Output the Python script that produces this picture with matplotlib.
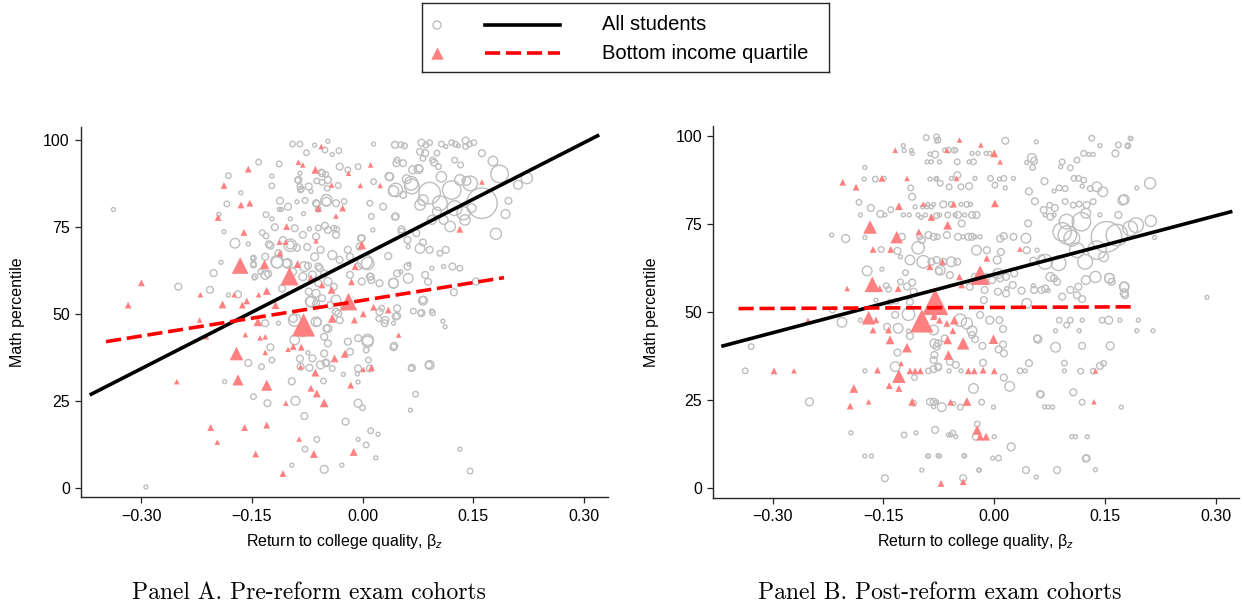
import numpy as np
import matplotlib
matplotlib.use('Agg')
from matplotlib import pyplot as plt

plt.rcParams['font.family'] = ['Liberation Sans', 'DejaVu Sans']
plt.rcParams['mathtext.fontset'] = 'custom'
plt.rcParams['mathtext.rm'] = 'Liberation Sans'
plt.rcParams['mathtext.it'] = 'Liberation Sans:italic'

x_ticks = [-0.30, -0.15, 0.0, 0.15, 0.30]
x_ticklabels = ['\u22120.30', '\u22120.15', '0.00', '0.15', '0.30']
y_ticks = [0, 25, 50, 75, 100]
y_ticklabels = ['0', '25', '50', '75', '100']

titles = ['Panel A. Pre-reform exam cohorts', 'Panel B. Post-reform exam cohorts']
legend_labels = ['All students', 'Bottom income quartile']

# fitted lines, end points
a_all_fit_x = [-0.368, 0.319]
a_all_fit_y = [26.9, 101.2]
a_low_fit_x = [-0.348, 0.192]
a_low_fit_y = [42.0, 60.4]
b_all_fit_x = [-0.367, 0.320]
b_all_fit_y = [40.3, 78.4]
b_low_fit_x = [-0.346, 0.186]
b_low_fit_y = [50.9, 51.4]

# cells: return, math percentile, weight (cell size)
a_all = np.array([
    [-0.338, 80.0, 1], [-0.095, 98.8, 2], [-0.085, 98.8, 2], [-0.076, 96.3, 2], [-0.065, 98.5, 1],
    [-0.047, 99.6, 1], [-0.051, 97.1, 2], [-0.041, 95.8, 1], [-0.032, 96.9, 2], [-0.141, 93.6, 2],
    [-0.113, 93.1, 2], [-0.085, 90.4, 1], [-0.056, 90.8, 2], [-0.050, 90.1, 2], [-0.182, 89.7, 2],
    [-0.123, 89.6, 1], [-0.123, 86.8, 2], [-0.088, 88.4, 2], [-0.085, 86.6, 2], [-0.083, 85.9, 2],
    [-0.062, 88.2, 2], [-0.055, 87.8, 2], [-0.048, 86.1, 2], [-0.070, 85.2, 1], [-0.033, 86.9, 2],
    [-0.165, 84.8, 1], [-0.184, 81.6, 2], [-0.112, 82.5, 3], [-0.101, 80.8, 3], [-0.089, 82.2, 1],
    [-0.078, 82.6, 2], [-0.062, 81.6, 3], [-0.049, 82.2, 5], [-0.060, 80.1, 2], [-0.113, 80.0, 1],
    [-0.110, 80.0, 1], [-0.131, 78.5, 2], [-0.123, 77.3, 1], [-0.098, 77.3, 1], [-0.080, 78.8, 1],
    [-0.195, 78.6, 1], [-0.188, 73.6, 1], [-0.119, 74.9, 3], [-0.072, 74.4, 1], [-0.060, 74.7, 2],
    [-0.051, 75.3, 3], [-0.035, 74.3, 2], [-0.136, 73.3, 2], [-0.131, 72.4, 2], [-0.173, 70.3, 6],
    [-0.155, 70.1, 1], [-0.125, 69.6, 3], [-0.098, 69.7, 10], [-0.089, 69.0, 3], [-0.075, 69.2, 3],
    [-0.149, 66.1, 1], [-0.192, 64.8, 1], [-0.148, 64.3, 2], [-0.116, 64.8, 8], [-0.102, 64.5, 6],
    [-0.074, 63.8, 3], [-0.060, 63.6, 3], [-0.202, 61.7, 3], [-0.128, 61.5, 3], [-0.147, 60.3, 1],
    [-0.250, 57.8, 3], [-0.207, 56.9, 3], [-0.182, 55.4, 1], [-0.169, 55.6, 3], [-0.109, 57.3, 3],
    [-0.069, 53.5, 8],
    [0.015, 98.8, 1], [0.044, 98.6, 3], [0.052, 98.6, 2], [0.057, 98.3, 2], [0.080, 99.2, 3],
    [0.086, 98.5, 2], [0.091, 99.2, 2], [0.107, 98.8, 2], [0.113, 98.1, 1], [0.121, 99.2, 2],
    [0.126, 98.8, 2], [0.130, 98.3, 1], [0.140, 99.8, 3], [0.145, 98.8, 2], [0.151, 99.2, 2],
    [0.140, 98.1, 2], [0.162, 96.2, 3], [0.177, 93.9, 6], [0.186, 90.2, 20], [0.223, 89.0, 8],
    [0.198, 82.5, 3], [0.194, 78.7, 5], [0.181, 73.0, 8], [0.091, 84.7, 30], [0.121, 85.6, 22],
    [0.162, 81.8, 60], [0.146, 87.5, 14], [0.105, 81.8, 14], [0.125, 80.4, 14], [0.137, 78.9, 11],
    [0.119, 75.1, 7], [0.067, 86.6, 14], [0.042, 85.3, 7], [0.060, 88.7, 5], [0.076, 91.6, 5],
    [0.107, 89.4, 7], [0.132, 88.5, 7], [0.141, 88.2, 5], [0.082, 82.7, 7], [0.101, 79.4, 5],
    [0.078, 81.3, 7], [0.094, 77.0, 5], [0.110, 77.0, 5], [0.139, 77.0, 7], [0.148, 80.4, 5],
    [0.037, 89.4, 4], [0.046, 93.3, 3], [0.078, 96.6, 3], [0.082, 94.7, 2], [0.097, 93.5, 3],
    [0.103, 92.3, 2], [0.062, 69.3, 1], [0.078, 68.8, 6], [0.044, 77.9, 3], [0.035, 66.6, 3],
    [0.053, 74.3, 3], [0.073, 73.2, 3], [0.082, 70.5, 3], [0.105, 67.4, 2], [0.113, 68.4, 3],
    [0.091, 68.4, 3], [0.122, 63.6, 3], [0.132, 63.1, 2], [0.110, 63.6, 1], [0.094, 63.1, 1],
    [0.085, 61.2, 3], [0.062, 60.2, 6], [0.042, 58.8, 6], [0.089, 59.2, 3], [0.124, 56.2, 3],
    [0.082, 54.0, 3], [0.052, 62.1, 1], [0.063, 64.3, 1], [-0.004, 69.3, 3], [0.003, 65.0, 14],
    [0.011, 60.7, 3], [0.014, 74.1, 1], [-0.002, 71.7, 3],
    [0.085, 96.2, 3], [0.095, 94.2, 2], [0.101, 96.2, 2], [0.077, 91.8, 3], [0.068, 91.4, 4],
    [0.125, 94.2, 2], [0.133, 92.8, 2], [0.211, 87.1, 5],
    [-0.132, 47.3, 3], [-0.114, 47.3, 1], [-0.094, 48.7, 4], [-0.061, 47.6, 4], [-0.049, 45.8, 3],
    [-0.125, 40.4, 3], [-0.123, 36.7, 2], [-0.155, 35.9, 3], [-0.137, 34.8, 2], [-0.187, 30.5, 1],
    [-0.148, 26.2, 2], [-0.129, 24.3, 3], [-0.096, 30.6, 3], [-0.091, 25.0, 5], [-0.074, 38.8, 1],
    [-0.085, 37.1, 3], [-0.072, 34.5, 3], [-0.053, 30.7, 2], [-0.079, 20.6, 3], [-0.062, 13.9, 2],
    [-0.078, 11.1, 2], [-0.052, 5.3, 4], [-0.096, 6.5, 1], [-0.050, 36.0, 3], [-0.294, 0.2, 1],
    [0.026, 51.6, 2], [0.047, 49.4, 3], [0.069, 50.8, 2], [0.080, 50.2, 3], [0.094, 50.8, 1],
    [0.082, 53.8, 5], [0.109, 47.9, 1], [0.112, 46.3, 1], [0.042, 47.3, 1], [0.030, 47.3, 3],
    [0.022, 48.6, 2], [0.007, 42.0, 8], [0.043, 40.8, 3], [0.005, 39.6, 2], [0.008, 36.7, 2],
    [0.067, 34.5, 3], [0.091, 35.3, 5], [-0.006, 24.3, 4], [0.000, 23.0, 2], [-0.023, 19.0, 3],
    [0.072, 26.9, 2], [0.065, 22.3, 1], [0.011, 16.4, 2], [0.021, 15.4, 1], [-0.006, 13.9, 1],
    [0.005, 12.3, 2], [0.018, 8.6, 1], [-0.028, 6.5, 1], [0.132, 11.1, 1], [0.146, 4.8, 2],
    [-0.026, 32.6, 1], [-0.007, 32.7, 1], [-0.006, 30.4, 1],
    [-0.116, 65.0, 10], [-0.103, 64.5, 4], [-0.095, 62.1, 4], [-0.079, 63.6, 6], [-0.068, 61.2, 4],
    [-0.058, 63.1, 3], [-0.052, 61.6, 3], [-0.081, 60.7, 4], [-0.060, 58.8, 3], [-0.047, 59.3, 4],
    [-0.039, 57.8, 3], [-0.073, 56.4, 3], [-0.063, 55.9, 4], [-0.071, 53.5, 6], [-0.063, 53.0, 3],
    [-0.055, 54.5, 3], [-0.044, 52.5, 3], [-0.036, 50.6, 3], [-0.092, 48.2, 10], [-0.063, 47.7, 6],
    [-0.047, 45.8, 4], [-0.033, 50.1, 3], [-0.031, 48.2, 3], [-0.092, 42.5, 6], [-0.081, 44.4, 3],
    [-0.052, 43.4, 3], [-0.047, 41.5, 3], [-0.020, 42.0, 3], [-0.017, 39.1, 3], [-0.006, 43.0, 3],
    [0.007, 42.5, 8], [-0.052, 38.6, 3], [-0.068, 37.2, 3], [-0.057, 35.3, 4], [-0.049, 35.8, 3],
    [-0.041, 34.3, 2], [-0.084, 34.8, 3], [-0.006, 34.3, 3], [0.010, 34.3, 3], [-0.132, 61.2, 5],
    [-0.138, 62.1, 2], [-0.146, 60.7, 2], [-0.148, 66.0, 2], [-0.148, 64.0, 2], [-0.132, 66.4, 3],
    [-0.127, 70.0, 3], [-0.114, 67.4, 3], [-0.108, 71.2, 3], [-0.098, 69.8, 4], [-0.092, 74.6, 3],
    [-0.081, 72.7, 3], [-0.063, 72.2, 3], [-0.047, 74.1, 3], [-0.039, 74.6, 2], [-0.036, 72.7, 3],
    [-0.065, 66.4, 4], [-0.057, 68.4, 3], [-0.041, 66.9, 5], [-0.031, 65.5, 3], [-0.020, 68.4, 3],
    [-0.017, 66.4, 3], [-0.001, 71.7, 3], [0.007, 64.5, 10], [0.010, 60.7, 3], [0.012, 59.7, 3],
    [0.023, 58.8, 3], [-0.001, 59.3, 3], [-0.017, 61.2, 3], [-0.006, 63.6, 3], [-0.036, 54.0, 6],
    [-0.025, 52.1, 3], [0.023, 50.6, 3], [0.031, 48.2, 3], [0.045, 49.2, 3], [0.047, 51.6, 3],
    [0.042, 58.8, 6], [0.047, 61.6, 3], [0.061, 63.6, 3], [0.042, 40.4, 3], [0.066, 34.3, 2],
    [0.090, 35.3, 3], [0.079, 50.3, 2], [0.095, 50.3, 2], [0.154, 59.3, 3],
    [-0.031, 92.3, 3], [-0.006, 92.3, 2], [-0.020, 91.4, 2], [-0.055, 90.4, 3], [-0.047, 88.5, 3],
    [-0.087, 88.5, 3], [-0.073, 86.6, 3], [-0.084, 85.6, 2], [-0.049, 82.7, 8], [-0.063, 81.8, 3],
    [-0.036, 81.8, 3], [-0.025, 82.3, 2], [0.010, 81.8, 2], [0.012, 78.0, 2], [0.015, 88.0, 2],
    [0.036, 89.5, 4], [0.045, 85.6, 12], [0.045, 78.0, 3], [0.053, 73.6, 3], [0.055, 93.3, 3],
    [0.047, 94.2, 2], [0.028, 80.8, 3], [0.055, 84.2, 3], [0.061, 71.2, 3], [0.066, 87.5, 12],
])

a_low = np.array([
    [-0.056, 98.1, 2], [-0.087, 93.6, 2], [-0.081, 92.8, 2], [-0.064, 91.4, 4], [-0.042, 87.0, 2],
    [-0.155, 91.6, 3], [-0.188, 86.9, 3], [-0.165, 81.3, 3], [-0.153, 81.8, 3], [-0.196, 77.7, 3],
    [-0.161, 73.4, 3], [-0.103, 75.1, 3], [-0.113, 70.6, 2], [-0.104, 70.6, 2], [-0.063, 71.0, 2],
    [-0.112, 67.4, 3], [-0.166, 63.9, 18], [-0.133, 64.2, 6], [-0.088, 64.3, 4], [-0.099, 60.8, 22],
    [-0.070, 60.4, 3], [-0.300, 58.9, 3], [-0.174, 55.5, 2], [-0.220, 55.5, 2], [-0.141, 55.5, 2],
    [-0.130, 56.6, 4], [-0.318, 52.5, 3], [-0.190, 52.7, 4], [-0.157, 53.7, 3], [-0.163, 52.5, 3],
    [-0.118, 52.5, 4], [-0.042, 56.9, 4], [-0.055, 58.3, 3], [-0.019, 90.4, 2], [0.011, 92.8, 2],
    [-0.003, 86.9, 2], [0.024, 86.9, 2], [-0.027, 80.4, 3], [-0.001, 69.8, 5], [-0.010, 63.6, 3],
    [-0.015, 59.2, 3], [-0.019, 53.5, 20], [0.001, 50.0, 3], [0.015, 51.9, 3], [0.035, 51.1, 3],
    [0.162, 87.9, 2], [0.132, 74.3, 3], [-0.221, 48.2, 2], [-0.212, 43.4, 2], [-0.159, 44.0, 2],
    [-0.142, 47.7, 5], [-0.080, 46.8, 35], [-0.132, 43.4, 2], [-0.139, 43.1, 2], [-0.094, 40.6, 3],
    [-0.083, 40.4, 3], [-0.101, 39.8, 2], [-0.132, 38.9, 2], [-0.171, 38.6, 12], [-0.038, 37.2, 4],
    [-0.084, 34.8, 2], [-0.064, 33.1, 4], [-0.169, 31.0, 8], [-0.130, 29.5, 8], [-0.252, 30.5, 2],
    [-0.070, 28.6, 3], [-0.062, 27.1, 4], [-0.052, 24.4, 5], [-0.104, 24.3, 2], [-0.206, 17.3, 3],
    [-0.160, 17.3, 3], [-0.130, 18.0, 3], [-0.197, 13.1, 2], [-0.145, 9.7, 3], [-0.066, 9.7, 4],
    [-0.086, 14.0, 2], [-0.108, 4.1, 3], [-0.011, 48.2, 3], [-0.024, 38.5, 4], [-0.016, 29.5, 3],
    [-0.012, 10.3, 4], [0.012, 34.5, 3], [0.001, 34.0, 2], [0.049, 43.9, 2], [-0.060, 80.3, 3],
    [-0.036, 78.1, 2], [-0.041, 48.7, 5],
])

b_all = np.array([
    [-0.092, 99.5, 2], [-0.078, 99.7, 2], [-0.076, 98.8, 2], [-0.123, 97.2, 1], [-0.122, 95.8, 1],
    [-0.112, 95.8, 1], [-0.111, 95.0, 1], [-0.087, 94.8, 1], [-0.080, 94.7, 3], [-0.091, 92.6, 1],
    [-0.085, 92.6, 1], [-0.175, 91.0, 1], [-0.176, 87.7, 1], [-0.161, 87.7, 2], [-0.149, 87.9, 1],
    [-0.087, 87.7, 1], [-0.079, 87.7, 1], [-0.113, 85.2, 2], [-0.111, 82.7, 3], [-0.183, 81.1, 2],
    [-0.167, 79.5, 3], [-0.181, 77.5, 1], [-0.154, 77.8, 3], [-0.148, 77.5, 1], [-0.140, 79.0, 2],
    [-0.123, 77.5, 1], [-0.115, 77.5, 1], [-0.107, 79.8, 1], [-0.097, 79.8, 1], [-0.099, 76.8, 1],
    [-0.091, 79.8, 1], [-0.085, 79.8, 1], [-0.078, 77.3, 2], [-0.220, 71.8, 1], [-0.201, 70.8, 4],
    [-0.125, 71.3, 3], [-0.175, 71.1, 1], [-0.153, 67.7, 2], [-0.131, 67.3, 3], [-0.127, 65.6, 1],
    [-0.152, 62.1, 1], [-0.172, 61.6, 6], [-0.114, 64.7, 6], [-0.103, 68.2, 10], [-0.098, 70.4, 3],
    [-0.089, 71.8, 3], [-0.082, 71.3, 3], [-0.096, 64.2, 10], [-0.078, 64.7, 3], [-0.075, 61.6, 3],
    [-0.146, 57.4, 2], [-0.143, 56.4, 2], [-0.127, 58.5, 2], [-0.120, 61.1, 2], [-0.118, 57.2, 3],
    [-0.111, 58.3, 3], [-0.109, 55.7, 3], [-0.160, 53.3, 1], [-0.141, 52.7, 2], [-0.133, 53.0, 2],
    [-0.114, 52.8, 3], [-0.219, 50.5, 2],
    [-0.078, 98.5, 1], [0.015, 98.6, 3], [0.057, 98.3, 1], [0.132, 99.3, 2], [0.143, 97.2, 1],
    [0.168, 97.4, 2], [0.181, 97.2, 2], [0.184, 99.3, 1], [0.164, 95.0, 3], [0.121, 95.0, 2],
    [0.128, 94.7, 1], [0.134, 94.7, 1], [0.112, 93.1, 2], [0.092, 92.6, 2], [0.090, 91.2, 1],
    [0.103, 90.9, 2], [0.051, 93.7, 5], [0.054, 92.9, 3], [0.044, 92.4, 1], [0.052, 91.0, 2],
    [-0.067, 95.9, 1], [-0.062, 95.9, 2], [-0.054, 95.9, 2], [-0.052, 95.9, 1], [-0.030, 95.0, 1],
    [-0.022, 95.0, 1], [-0.011, 95.0, 1], [-0.006, 95.0, 1], [-0.050, 92.6, 2], [-0.050, 88.8, 3],
    [-0.078, 87.9, 1], [-0.073, 86.5, 2], [-0.061, 85.5, 2], [-0.034, 85.7, 3], [0.007, 87.7, 1],
    [0.013, 87.9, 2], [0.001, 86.0, 2], [0.015, 85.2, 1], [0.026, 87.9, 1], [0.047, 84.2, 3],
    [0.068, 87.1, 3], [0.081, 84.3, 1], [0.088, 85.2, 2], [0.096, 85.0, 2], [0.108, 87.9, 2],
    [0.114, 87.9, 2], [0.121, 87.4, 2], [0.119, 85.7, 1], [0.130, 85.0, 2], [0.139, 85.5, 6],
    [0.147, 84.1, 6], [0.193, 85.2, 1], [0.211, 86.5, 8], [0.174, 81.7, 6], [0.168, 77.5, 3],
    [0.143, 77.5, 1], [0.055, 81.4, 3], [0.046, 75.1, 3], [0.067, 78.9, 3], [0.075, 80.3, 2],
    [0.082, 79.5, 3], [0.096, 81.3, 2], [0.107, 80.3, 2], [0.115, 80.6, 2], [0.125, 80.3, 3],
    [0.134, 81.3, 2], [0.069, 77.5, 1], [0.076, 77.0, 3], [0.081, 77.5, 1], [0.098, 75.6, 14],
    [0.118, 75.6, 22], [0.124, 78.0, 6], [0.092, 72.7, 22], [0.099, 71.8, 22], [0.105, 70.9, 16],
    [0.152, 71.3, 60], [0.166, 71.8, 30], [0.184, 73.7, 14], [0.192, 74.6, 14], [0.212, 75.8, 8],
    [0.112, 67.5, 14], [0.123, 64.2, 14], [0.139, 67.5, 22], [0.148, 65.6, 6], [0.069, 64.2, 14],
    [0.087, 63.8, 14], [0.043, 70.9, 6], [0.044, 67.5, 3], [0.058, 67.5, 1], [0.053, 64.5, 3],
    [0.064, 65.2, 3], [0.076, 59.9, 5], [0.081, 59.5, 3], [0.085, 58.5, 3], [0.103, 56.2, 3],
    [0.114, 57.1, 3], [0.124, 59.0, 5], [0.137, 59.9, 8], [0.156, 59.5, 6], [0.159, 58.5, 3],
    [0.176, 57.1, 6], [0.177, 54.7, 3], [0.112, 54.7, 3], [0.119, 53.6, 3], [0.092, 54.3, 3],
    [0.054, 56.2, 3], [0.064, 56.2, 3], [0.073, 56.0, 1], [0.044, 52.4, 6], [0.025, 57.6, 3],
    [0.037, 56.0, 3], [0.017, 56.6, 1], [0.008, 59.5, 3], [-0.003, 59.0, 3], [0.004, 64.7, 4],
    [0.009, 67.0, 3], [-0.024, 67.5, 6], [-0.073, 61.8, 6], [-0.060, 60.4, 3], [-0.064, 71.8, 3],
    [-0.049, 71.3, 3], [-0.042, 71.3, 1], [-0.035, 71.3, 3], [-0.030, 71.3, 3], [-0.026, 71.3, 1],
    [-0.019, 71.3, 1], [-0.049, 77.5, 3], [-0.040, 77.5, 1], [-0.030, 77.5, 3], [-0.024, 77.5, 3],
    [-0.044, 75.1, 3], [-0.010, 67.5, 3], [0.008, 70.8, 3], [0.013, 71.5, 3], [0.026, 71.3, 3],
    [-0.033, 57.1, 3], [-0.014, 53.3, 3],
    [-0.329, 40.1, 2], [-0.337, 33.2, 2], [-0.250, 24.4, 4], [-0.194, 15.6, 1], [-0.175, 9.0, 1],
    [-0.166, 9.0, 1], [-0.175, 33.2, 1], [-0.148, 2.7, 3], [-0.206, 47.0, 6], [-0.181, 47.6, 1],
    [-0.145, 45.7, 3], [-0.130, 45.3, 6], [-0.114, 43.1, 3], [-0.116, 44.5, 1], [-0.131, 38.4, 3],
    [-0.134, 34.4, 6], [-0.108, 31.3, 2], [-0.109, 24.0, 2], [-0.122, 15.0, 2], [-0.106, 15.6, 1],
    [-0.098, 5.0, 1], [-0.089, 9.0, 1], [-0.087, 24.4, 3], [-0.082, 24.4, 3], [-0.078, 24.4, 1],
    [-0.080, 16.4, 3], [-0.082, 23.0, 1], [-0.089, 33.2, 2], [-0.082, 33.7, 3], [-0.076, 34.2, 3],
    [-0.082, 36.3, 3], [-0.078, 40.1, 3], [-0.076, 41.0, 3], [-0.082, 44.8, 6], [-0.116, 49.3, 10],
    [-0.134, 49.1, 3],
    [-0.006, 47.6, 4], [0.007, 47.6, 3], [0.012, 45.1, 3], [0.059, 42.2, 4], [0.083, 39.9, 6],
    [0.119, 40.3, 3], [0.157, 40.3, 4], [0.088, 47.6, 2], [0.098, 46.2, 2], [0.103, 47.6, 2],
    [0.119, 47.6, 1], [0.146, 47.6, 2], [0.155, 47.6, 4], [0.170, 47.6, 1], [0.195, 47.6, 1],
    [0.083, 44.6, 1], [0.115, 44.6, 1], [0.193, 44.6, 1], [0.215, 44.6, 1], [0.012, 40.7, 3],
    [0.006, 39.3, 3], [0.013, 38.2, 3], [-0.016, 40.3, 3], [-0.026, 42.2, 3], [-0.030, 43.4, 3],
    [-0.015, 35.5, 3], [0.013, 31.3, 3], [0.021, 28.8, 6], [0.047, 35.4, 3], [0.035, 33.2, 2],
    [0.042, 33.2, 1], [0.095, 35.4, 2], [0.095, 33.2, 1], [0.117, 33.1, 2], [0.134, 33.1, 2],
    [0.143, 34.6, 3], [0.148, 35.3, 2], [-0.028, 28.2, 6], [0.063, 26.5, 3], [0.107, 27.1, 3],
    [-0.017, 24.3, 2], [-0.001, 22.9, 1], [0.073, 22.9, 1], [0.079, 22.9, 1], [0.119, 24.3, 2],
    [0.172, 22.9, 1], [-0.062, 15.0, 1], [-0.056, 15.5, 2], [-0.052, 14.5, 1], [-0.023, 18.1, 2],
    [-0.025, 14.5, 3], [0.000, 14.5, 1], [0.023, 11.6, 4], [0.105, 14.5, 1], [0.110, 14.5, 1],
    [0.126, 14.5, 1], [-0.076, 9.1, 1], [-0.041, 9.1, 1], [-0.002, 8.4, 1], [0.006, 8.4, 2],
    [0.125, 8.4, 3], [-0.020, 5.0, 1], [0.043, 5.0, 3], [0.085, 5.0, 3], [0.137, 5.1, 1],
    [0.057, 3.0, 1], [-0.042, 2.7, 3], [-0.081, 37.7, 3], [-0.076, 34.4, 3], [-0.061, 33.2, 1],
    [-0.045, 33.2, 1], [-0.060, 35.8, 3], [-0.052, 34.9, 3], [-0.071, 22.9, 5], [-0.055, 23.9, 1],
    [-0.046, 22.9, 2], [-0.081, 41.0, 5], [-0.067, 42.4, 3], [-0.046, 47.6, 10], [-0.037, 46.7, 8],
    [-0.030, 44.6, 6], [-0.019, 49.1, 3],
    [0.288, 54.1, 1], [0.185, 99.2, 1], [0.180, 97.1, 1], [0.176, 81.9, 6], [0.217, 71.1, 1],
    [0.156, 59.5, 6], [0.176, 57.1, 5], [0.176, 55.4, 4], [0.058, 42.4, 3], [0.068, 23.0, 1],
    [0.124, 8.3, 3], [-0.090, 9.0, 1], [-0.074, 9.0, 1], [-0.059, 15.0, 1], [-0.040, 9.0, 1],
    [-0.021, 5.0, 1], [0.062, 26.6, 3],
    [-0.103, 77.5, 1], [-0.093, 77.5, 1], [-0.074, 77.5, 1], [-0.063, 77.5, 2], [-0.053, 77.5, 1],
    [-0.090, 80.5, 1], [-0.082, 80.5, 1], [-0.069, 80.5, 3], [-0.058, 80.5, 2], [-0.045, 80.5, 1],
    [-0.037, 80.5, 2], [-0.032, 80.5, 1], [-0.101, 71.3, 2], [-0.077, 71.3, 2], [-0.085, 64.2, 3],
    [-0.069, 64.2, 3], [-0.058, 64.2, 6], [-0.050, 64.2, 3], [-0.026, 59.9, 3], [-0.011, 59.9, 3],
    [0.016, 59.9, 3], [0.027, 60.9, 3], [0.005, 60.9, 6], [0.053, 57.4, 1], [0.069, 56.6, 3],
    [0.005, 55.7, 3], [0.016, 55.2, 3], [-0.013, 56.2, 3], [-0.074, 92.6, 1], [-0.034, 92.6, 1],
    [-0.028, 92.6, 2], [-0.058, 87.9, 1], [-0.026, 87.9, 1], [-0.005, 87.9, 2], [-0.045, 85.5, 2],
])

b_low = np.array([
    [-0.134, 95.9, 2], [-0.152, 87.9, 3], [-0.205, 86.8, 3], [-0.187, 85.4, 3], [-0.118, 87.9, 2],
    [-0.129, 80.0, 4], [-0.096, 80.6, 2], [-0.085, 76.8, 3], [-0.168, 74.1, 12], [-0.132, 71.2, 10],
    [-0.164, 67.7, 3], [-0.140, 67.7, 3], [-0.102, 72.7, 3], [-0.087, 62.8, 3], [-0.199, 56.6, 2],
    [-0.165, 57.8, 16], [-0.155, 56.6, 3], [-0.130, 56.6, 3], [-0.080, 52.8, 45], [-0.047, 98.8, 2],
    [-0.018, 97.4, 2], [0.000, 95.0, 4], [0.008, 92.6, 2], [-0.051, 87.9, 2], [-0.070, 64.2, 3],
    [-0.063, 74.6, 5], [-0.085, 77.0, 3], [-0.055, 80.6, 3], [0.001, 80.8, 4], [-0.047, 59.9, 3],
    [-0.019, 60.4, 25], [-0.044, 57.6, 3], [-0.010, 65.2, 3], [0.035, 67.8, 2], [-0.298, 33.2, 3],
    [-0.271, 33.2, 2], [-0.252, 47.6, 2], [-0.195, 23.2, 3], [-0.190, 28.2, 5], [-0.170, 24.4, 2],
    [-0.158, 33.4, 3], [-0.170, 48.3, 12], [-0.160, 47.7, 3], [-0.164, 44.8, 3], [-0.143, 44.8, 3],
    [-0.141, 42.0, 5], [-0.118, 39.8, 6], [-0.129, 31.7, 12], [-0.126, 35.3, 2], [-0.114, 33.2, 3],
    [-0.107, 33.2, 3], [-0.100, 33.2, 3], [-0.142, 29.0, 3], [-0.129, 28.2, 3], [-0.111, 24.4, 4],
    [-0.098, 47.4, 35], [-0.082, 48.6, 3], [-0.074, 47.6, 3], [-0.081, 49.1, 3], [-0.064, 46.7, 3],
    [-0.054, 47.6, 5], [-0.056, 44.6, 3], [-0.063, 42.0, 5], [-0.042, 41.0, 10], [-0.001, 42.2, 6],
    [-0.062, 37.7, 6], [-0.035, 33.2, 3], [-0.027, 33.2, 3], [-0.015, 33.4, 3], [0.000, 33.2, 3],
    [0.137, 33.2, 2], [-0.059, 24.3, 3], [-0.037, 24.5, 5], [0.135, 24.4, 2], [-0.023, 16.4, 6],
    [-0.019, 14.5, 4], [-0.011, 14.5, 4], [-0.072, 1.2, 3], [-0.042, 1.7, 3], [-0.064, 95.9, 2],
])

GREY = '#bebebe'
PINK = '#ff8080'
AXCOL = '#262626'

fig = plt.figure(figsize=(12.44, 6.07), dpi=100)


def draw_panel(rect, cells, low, fit_all, fit_low, xlim, ylim, ylab_x):
    ax = fig.add_axes(rect)
    ax.scatter(cells[:, 0], cells[:, 1], s=8 * cells[:, 2], facecolors='none',
               edgecolors=GREY, linewidths=1.0, zorder=2, clip_on=False)
    ax.scatter(low[:, 0], low[:, 1], s=8 * low[:, 2], marker='^', color=PINK,
               linewidths=0, zorder=3, clip_on=False)
    ax.plot(fit_all[0], fit_all[1], color='black', lw=2.6, zorder=4)
    ax.plot(fit_low[0], fit_low[1], color='red', lw=2.6, dashes=(4.2, 1.6), zorder=5)
    ax.set_xlim(xlim)
    ax.set_ylim(ylim)
    ax.set_xticks(x_ticks, x_ticklabels)
    ax.set_yticks(y_ticks, y_ticklabels)
    for s in ['top', 'right']:
        ax.spines[s].set_visible(False)
    for s in ['left', 'bottom']:
        ax.spines[s].set_color(AXCOL)
        ax.spines[s].set_linewidth(1.0)
    ax.tick_params(direction='out', length=4.5, width=0.9, color=AXCOL,
                   labelsize=11.5, pad=3.5)
    ax.set_xlabel('Return to college quality, \u03b2$_z$', fontsize=11.5)
    ax.set_ylabel('Math percentile', fontsize=11.5)
    ax.xaxis.set_label_coords(0.5, -0.092)
    ax.yaxis.set_label_coords(ylab_x, 0.5)
    return ax


draw_panel([0.0651, 0.1804, 0.4236, 0.6109], a_all, a_low,
           (a_all_fit_x, a_all_fit_y), (a_low_fit_x, a_low_fit_y),
           (-0.382, 0.333), (-2.8, 103.8), -0.106)
draw_panel([0.5735, 0.1801, 0.4223, 0.6124], b_all, b_low,
           (b_all_fit_x, b_all_fit_y), (b_low_fit_x, b_low_fit_y),
           (-0.380, 0.331), (-2.84, 102.8), -0.1035)

fig.text(308.5 / 1244, 1 - 593 / 607, titles[0], ha='center', va='center',
         family='cmr10', fontsize=17)
fig.text(940 / 1244, 1 - 593 / 607, titles[1], ha='center', va='center',
         family='cmr10', fontsize=17)

# legend box, drawn in its own pixel-sized axes
lax = fig.add_axes([421.7 / 1244, 1 - 71.7 / 607, 407.6 / 1244, 69 / 607])
lax.set_xlim(0, 407.6)
lax.set_ylim(69, 0)
lax.set_xticks([])
lax.set_yticks([])
for s in lax.spines.values():
    s.set_color(AXCOL)
    s.set_linewidth(1.0)
lax.scatter([15.3], [22.3], s=34, facecolors='none', edgecolors=GREY, linewidths=1.0)
lax.scatter([15.3], [50.0], s=80, marker='^', color=PINK, linewidths=0)
lax.plot([63.3, 138.3], [22.3, 22.3], color='black', lw=2.6)
lax.plot([63.3, 138.3], [50.6, 50.6], color='red', lw=2.6, dashes=(4.2, 1.6))
lax.text(180, 22.3, legend_labels[0], fontsize=14.5, va='center', ha='left')
lax.text(180, 50.6, legend_labels[1], fontsize=14.5, va='center', ha='left')

fig.savefig('out.png', dpi=100)
